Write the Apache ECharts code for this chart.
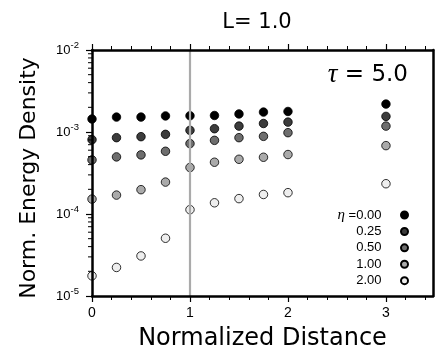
<!DOCTYPE html>
<html>
<head>
<meta charset="utf-8">
<script src="https://cdn.jsdelivr.net/npm/echarts@6/dist/echarts.min.js"></script>
<style>html,body{margin:0;padding:0;background:#fff;}#c{width:435px;height:356px;}</style>
</head>
<body>
<div id="c"></div>
<script>
// ---- data ----
const xValues = [0, 0.25, 0.5, 0.75, 1.0, 1.25, 1.5, 1.75, 2.0, 3.0];
const etaLabels = ['0.00', '0.25', '0.50', '1.00', '2.00'];
const eta000 = [1.44e-3, 1.52e-3, 1.52e-3, 1.57e-3, 1.58e-3, 1.59e-3, 1.66e-3, 1.75e-3, 1.78e-3, 2.19e-3];
const eta025 = [8.07e-4, 8.53e-4, 8.77e-4, 9.36e-4, 1.047e-3, 1.097e-3, 1.18e-3, 1.27e-3, 1.32e-3, 1.55e-3];
const eta050 = [4.57e-4, 4.97e-4, 5.26e-4, 5.82e-4, 7.22e-4, 7.91e-4, 8.53e-4, 8.85e-4, 9.81e-4, 1.18e-3];
const eta100 = [1.52e-4, 1.70e-4, 1.98e-4, 2.45e-4, 3.69e-4, 4.28e-4, 4.65e-4, 4.92e-4, 5.31e-4, 6.82e-4];
const eta200 = [1.76e-5, 2.23e-5, 3.08e-5, 5.06e-5, 1.13e-4, 1.37e-4, 1.54e-4, 1.73e-4, 1.82e-4, 2.34e-4];
const xTickValues = [0, 1, 2, 3];
const yTickValues = [1e-5, 1e-4, 1e-3, 1e-2];
const yTickExponents = ['-5', '-4', '-3', '-2'];
const yMinorTickValues = [2e-5,3e-5,4e-5,5e-5,6e-5,7e-5,8e-5,9e-5,2e-4,3e-4,4e-4,5e-4,6e-4,7e-4,8e-4,9e-4,2e-3,3e-3,4e-3,5e-3,6e-3,7e-3,8e-3,9e-3];
const referenceX = 1;
const titleText = 'L= 1.0';
const tauText = '5.0';

// ---- styles ----
const seriesValues = [eta000, eta025, eta050, eta100, eta200];
const colors = ['#000000', '#3c3c3c', '#6e6e6e', '#aaaaaa', '#eeeeee'];

const chart = echarts.init(document.getElementById('c'), null, {renderer: 'canvas'});

const scatterSeries = etaLabels.map((name, i) => ({
  name: name,
  type: 'scatter',
  z: 3,
  symbol: 'circle',
  symbolSize: 8.5,
  clip: true,
  itemStyle: {color: colors[i], borderColor: '#000', borderWidth: 0.8, opacity: 1},
  data: xValues.map((x, j) => [x, seriesValues[i][j]])
}));

const option = {
  animation: false,
  backgroundColor: '#fff',
  title: {
    text: titleText,
    left: 257, top: 12, textAlign: 'center', padding: 0,
    textStyle: {fontFamily: 'DejaVu Sans', fontSize: 21, fontWeight: 'normal', color: '#000'}
  },
  grid: {left: 92, right: 2, top: 50, bottom: 59, containLabel: false},
  legend: {
    data: etaLabels,
    orient: 'vertical',
    align: 'right',
    right: 26, top: 207, padding: 0,
    itemWidth: 36, itemHeight: 7, itemGap: 0.3,
    icon: 'circle',
    formatter: name => name === etaLabels[0] ? '{e|η} =' + name : name,
    textStyle: {
      fontFamily: 'Liberation Sans', fontSize: 13, color: '#000', lineHeight: 16.1,
      rich: {e: {fontFamily: 'Liberation Serif', fontStyle: 'italic', fontSize: 15, lineHeight: 16.1, color: '#000'}}
    }
  },
  xAxis: [{
    type: 'value', position: 'bottom', min: 0, max: 3.48, interval: 1, z: 5,
    name: 'Normalized Distance', nameLocation: 'middle', nameGap: 31,
    nameTextStyle: {fontFamily: 'DejaVu Sans', fontSize: 24, color: '#000'},
    axisLine: {show: true, onZero: false, lineStyle: {color: '#000', width: 2.5}},
    axisTick: {show: true, inside: false, length: 6, customValues: xTickValues, lineStyle: {color: '#000', width: 1.2}},
    minorTick: {show: true, splitNumber: 5, length: 4, lineStyle: {color: '#000', width: 1}},
    axisLabel: {show: true, margin: 10, customValues: xTickValues, fontFamily: 'Liberation Sans', fontSize: 14, color: '#000'},
    splitLine: {show: false}, minorSplitLine: {show: false}
  }, {
    type: 'value', position: 'top', min: 0, max: 3.48, interval: 1, z: 5,
    axisLine: {show: true, onZero: false, lineStyle: {color: '#000', width: 2.5}},
    axisTick: {show: true, inside: false, length: 6, customValues: xTickValues, lineStyle: {color: '#000', width: 1.2}},
    minorTick: {show: true, splitNumber: 5, length: 4, lineStyle: {color: '#000', width: 1}},
    axisLabel: {show: false},
    splitLine: {show: false}
  }],
  yAxis: [{
    type: 'log', logBase: 10, min: 1e-5, max: 1e-2, position: 'left', z: 5,
    name: 'Norm. Energy Density', nameLocation: 'middle', nameGap: 52, nameRotate: 90,
    nameTextStyle: {fontFamily: 'DejaVu Sans', fontSize: 22, color: '#000', padding: [0, 10, 0, 0]},
    axisLine: {show: true, onZero: false, lineStyle: {color: '#000', width: 2.5}},
    axisTick: {show: true, inside: false, length: 6, customValues: yTickValues, lineStyle: {color: '#000', width: 1.2}},
    axisLabel: {
      show: true, margin: 13, customValues: yTickValues,
      formatter: v => {
        const k = yTickValues.findIndex(t => Math.abs(Math.log10(t) - Math.log10(v)) < 1e-6);
        return '{b|10}{s|' + (k >= 0 ? yTickExponents[k] : '') + '}';
      },
      rich: {
        b: {fontFamily: 'Liberation Sans', fontSize: 13, lineHeight: 20, verticalAlign: 'middle', color: '#000'},
        s: {fontFamily: 'Liberation Sans', fontSize: 9.5, lineHeight: 10, verticalAlign: 'top', color: '#000'}
      }
    },
    splitLine: {show: false}
  }, {
    type: 'log', logBase: 10, min: 1e-5, max: 1e-2, position: 'right', z: 5,
    axisLine: {show: true, onZero: false, lineStyle: {color: '#000', width: 2.5}},
    axisTick: {show: false}, axisLabel: {show: false}, splitLine: {show: false}
  }],
  graphic: [{
    type: 'text', x: 408, y: 75, z: 10,
    style: {
      text: '{t|τ} = ' + tauText,
      align: 'right', verticalAlign: 'middle',
      fontFamily: 'DejaVu Sans', fontSize: 23, fill: '#000',
      rich: {t: {fontFamily: 'Liberation Serif', fontStyle: 'italic', fontSize: 27, fill: '#000', color: '#000'}}
    }
  }],
  series: [{
    name: 'ref', type: 'scatter', data: [], z: 1, silent: true,
    markLine: {
      silent: true, symbol: 'none', label: {show: false}, animation: false,
      lineStyle: {color: '#aaaaaa', width: 2.2, type: 'solid'},
      data: [{xAxis: referenceX}]
    }
  }, {
    name: 'yMinorTicks', type: 'custom', coordinateSystem: 'cartesian2d', clip: false, silent: true, z: 6,
    data: yMinorTickValues.map(v => [0, v]),
    renderItem: (params, api) => {
      const p = api.coord([0, api.value(1)]);
      return {type: 'line', shape: {x1: p[0] - 4, y1: p[1], x2: p[0], y2: p[1]}, style: {stroke: '#000', lineWidth: 1}};
    }
  }].concat(scatterSeries)
};
chart.setOption(option);
</script>
</body>
</html>
